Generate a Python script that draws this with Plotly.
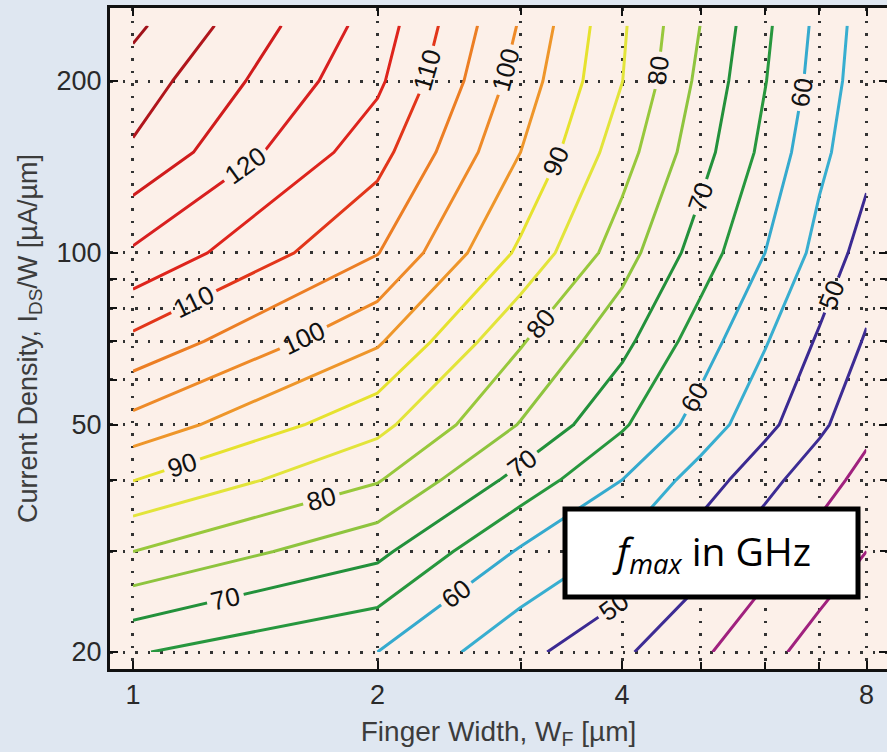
import plotly.graph_objects as go

# ---------------- data ----------------
finger_width = [1, 2, 3, 4, 5, 6, 7, 8]            # W_F [um]
current_density = [20, 30, 40, 50, 70, 100, 150, 200, 250]  # I_DS/W [uA/um]
fmax_ghz = [
    [65.4, 60.0, 51.5, 45.8, 40.8, 36.5, 32.9, 31.0],
    [80.0, 71.3, 59.4, 54.1, 47.0, 41.8, 38.0, 35.0],
    [90.1, 80.4, 68.2, 60.0, 52.7, 46.6, 42.0, 38.4],
    [98.2, 86.5, 74.7, 65.7, 57.9, 51.4, 46.0, 41.3],
    [108.8, 95.7, 80.5, 71.5, 62.4, 55.4, 49.3, 44.5],
    [119.3, 105.2, 89.0, 77.3, 67.6, 60.0, 53.4, 47.8],
    [129.3, 111.9, 95.0, 82.2, 71.9, 63.6, 56.2, 51.5],
    [132.7, 116.0, 97.8, 85.1, 73.7, 65.2, 57.9, 52.0],
    [136.1, 117.8, 99.5, 85.7, 74.9, 66.0, 58.6, 52.5],
]

x_tick_vals = [1, 2, 4, 8]
x_tick_text = ["1", "2", "4", "8"]
x_minor_vals = [3, 5, 6, 7]
y_tick_vals = [20, 50, 100, 200]
y_tick_text = ["20", "50", "100", "200"]
y_minor_vals = [30, 40, 60, 70, 80, 90]

level_colors = {
    35: "#a0217e", 40: "#a0217e",
    45: "#3d2c94", 50: "#3b2a92",
    55: "#38aed0", 60: "#35aace",
    65: "#27973e", 70: "#23913b",
    75: "#8ec43e", 80: "#98c83c",
    85: "#e2e43a", 90: "#e6e22e",
    95: "#ee962a", 100: "#ee8a28", 105: "#ec7e24",
    110: "#e2361a", 115: "#de241c",
    120: "#d82020", 125: "#d01c1c",
    130: "#b0161c", 135: "#a01119",
}

FONT = "Liberation Sans, Arial, Helvetica, sans-serif"


def scale_for(start, end):
    # colour stops placed at each drawn level (levels outside the data draw nothing)
    lv = sorted(level_colors)
    stops = [[(L - start) / (end - start), level_colors[L]] for L in lv
             if start <= L <= end and (L - start) % 10 == 0]
    stops = [[0.0, stops[0][1]]] + stops + [[1.0, stops[-1][1]]]
    return stops


fig = go.Figure()

# unlabeled intermediate levels (35, 45, ... 135)
fig.add_trace(go.Contour(
    x=finger_width, y=current_density, z=fmax_ghz,
    contours=dict(coloring="lines", start=35, end=135, size=10, showlabels=False),
    colorscale=scale_for(35, 135),
    line=dict(width=3, smoothing=0),
    showscale=False, hoverinfo="skip",
))
# labeled levels (40, 50, ... 130); range widened so labels repeat along long lines
LAB_START, LAB_END = -180, 400
fig.add_trace(go.Contour(
    x=finger_width, y=current_density, z=fmax_ghz,
    contours=dict(coloring="lines", start=LAB_START, end=LAB_END, size=10, showlabels=True,
                  labelfont=dict(family=FONT, size=26, color="#111111")),
    colorscale=scale_for(LAB_START, LAB_END),
    line=dict(width=3, smoothing=0),
    showscale=False, hoverinfo="skip",
))

grid_common = dict(
    showgrid=True, gridcolor="#333333", gridwidth=2.5, griddash="2.5px,10px",
)

fig.update_xaxes(
    type="log",
    range=[-0.0283, 0.9283],
    tickmode="array", tickvals=x_tick_vals, ticktext=x_tick_text,
    ticks="inside", ticklen=8, tickwidth=2, tickcolor="#111111",
    minor=dict(tickmode="array", tickvals=x_minor_vals, ticks="inside", ticklen=7,
               tickwidth=2, tickcolor="#111111", **grid_common),
    showline=True, linecolor="#111111", linewidth=3, mirror="ticks",
    tickfont=dict(family=FONT, size=27, color="#2a2a2a"),
    title=dict(text="Finger Width, W<sub>F</sub> [µm]",
               font=dict(family=FONT, size=28, color="#3c3c3c"), standoff=12),
    zeroline=False, automargin=False,
    **grid_common,
)
fig.update_yaxes(
    type="log",
    range=[1.27126, 2.42888],
    tickmode="array", tickvals=y_tick_vals, ticktext=y_tick_text,
    ticks="inside", ticklen=8, tickwidth=2, tickcolor="#111111",
    minor=dict(tickmode="array", tickvals=y_minor_vals, ticks="inside", ticklen=7,
               tickwidth=2, tickcolor="#111111", **grid_common),
    showline=True, linecolor="#111111", linewidth=3, mirror="ticks",
    tickfont=dict(family=FONT, size=27, color="#2a2a2a"),
    title=dict(text="Current Density, I<sub>DS</sub>/W [µA/µm]",
               font=dict(family=FONT, size=27, color="#3c3c3c"), standoff=12),
    zeroline=False, automargin=False,
    **grid_common,
)

# f_max legend box
fig.add_shape(type="rect", xref="paper", yref="paper",
              x0=0.5856, x1=0.9627, y0=0.1089, y1=0.242,
              line=dict(color="#000000", width=5), fillcolor="#ffffff", layer="above")
fig.add_annotation(xref="paper", yref="paper", x=0.7735, y=0.1755,
                   text="<i>f<sub>max</sub></i> in GHz", showarrow=False,
                   font=dict(family="Open Sans, Noto Sans, sans-serif", size=39, color="#000000"),
                   xanchor="center", yanchor="middle")

fig.update_layout(
    width=887, height=752,
    margin=dict(l=110, r=0, t=8, b=83, autoexpand=False),
    paper_bgcolor="#dfe7f1",
    plot_bgcolor="#fcf0e9",
    showlegend=False,
)

fig.write_html(
    "out.html",
    config={"displayModeBar": False},
    post_script="document.body.style.margin='0px';document.body.style.overflow='hidden';",
)
